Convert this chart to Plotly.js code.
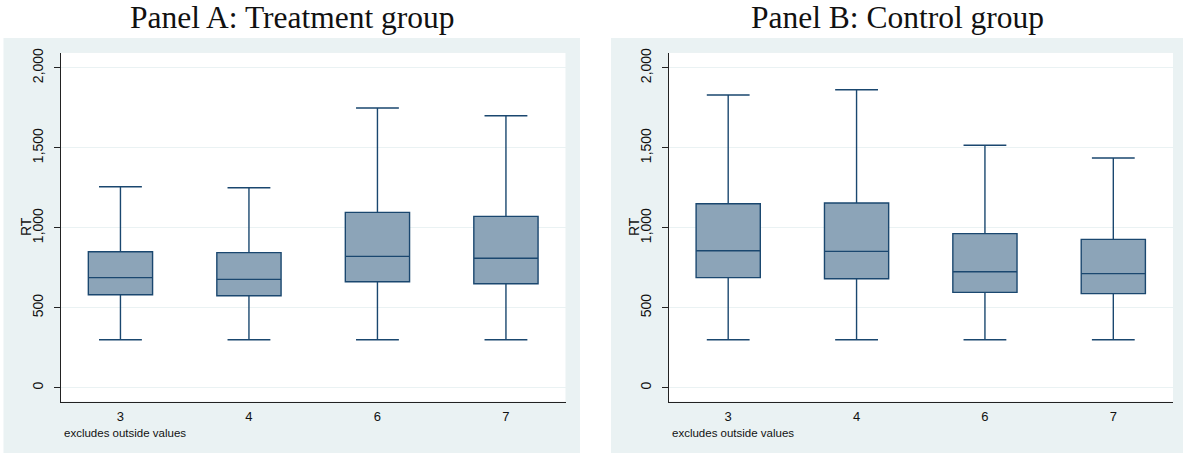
<!DOCTYPE html>
<html><head><meta charset="utf-8">
<script src="https://cdn.plot.ly/plotly-3.0.1.min.js"></script>
<style>html,body{margin:0;padding:0;background:#fff}</style>
</head><body><div id="chart" style="width:1183px;height:454px"></div>
<script>
const categories = ['3', '4', '6', '7'];
const panelTitles = ['Panel A: Treatment group', 'Panel B: Control group'];
const yTitle = 'RT';
const noteText = 'excludes outside values';

const treatLower  = [300, 300, 300, 300];
const treatQ1     = [581, 575, 662, 650];
const treatMedian = [688, 677, 821, 809];
const treatQ3     = [850, 844, 1096, 1071];
const treatUpper  = [1256, 1250, 1748, 1700];

const ctrlLower  = [300, 300, 300, 300];
const ctrlQ1     = [688, 681, 596, 588];
const ctrlMedian = [856, 852, 725, 713];
const ctrlQ3     = [1150, 1154, 963, 927];
const ctrlUpper  = [1829, 1862, 1515, 1436];

const W = 1183, H = 454;
const px = v => v / W;
const py = v => 1 - v / H;

const fillC = '#8ca4b8', lineC = '#1a476f', bgC = '#eaf2f3', axC = '#222222';
const xRange = [-0.465, 3.465], yRange = [-87.5, 2093.75];

function boxTrace(lo, q1, med, q3, up, xa, ya) {
  return {
    type: 'box', x: categories, lowerfence: lo, q1: q1, median: med, q3: q3, upperfence: up,
    boxpoints: false, width: 0.5, whiskerwidth: 0.667,
    fillcolor: fillC, line: {color: lineC, width: 1.4},
    xaxis: xa, yaxis: ya, showlegend: false, hoverinfo: 'skip'
  };
}

const data = [
  boxTrace(treatLower, treatQ1, treatMedian, treatQ3, treatUpper, 'x', 'y'),
  boxTrace(ctrlLower, ctrlQ1, ctrlMedian, ctrlQ3, ctrlUpper, 'x2', 'y2')
];

const yDom = [py(401.7), py(52.7)];
function xax(dom, anchor) {
  return {domain: dom, anchor: anchor, type: 'category', range: xRange,
    showline: true, linecolor: axC, linewidth: 1, ticks: '', showgrid: false, zeroline: false,
    ticklabelstandoff: 3,
    tickfont: {family: 'Liberation Sans, Arial, sans-serif', size: 13, color: '#111'}, fixedrange: true};
}
function yax(anchor) {
  return {domain: yDom, anchor: anchor, range: yRange, tick0: 0, dtick: 500, tickformat: ',',
    showline: true, linecolor: axC, linewidth: 1, ticks: 'outside', ticklen: 6, tickcolor: axC, tickwidth: 1,
    showgrid: true, gridcolor: bgC, gridwidth: 1, zeroline: false, tickangle: -90,
    ticklabelstandoff: 5,
    tickfont: {family: 'Liberation Sans, Arial, sans-serif', size: 14, color: '#111'}, fixedrange: true};
}

const layout = {
  width: W, height: H, margin: {l: 0, r: 0, t: 0, b: 0},
  paper_bgcolor: '#ffffff', plot_bgcolor: '#ffffff', showlegend: false,
  xaxis: xax([px(60.7), px(565.7)], 'y'),
  yaxis: yax('x'),
  xaxis2: xax([px(668.5), px(1173)], 'y2'),
  yaxis2: yax('x2'),
  shapes: [
    {type: 'rect', xref: 'paper', yref: 'paper', x0: px(3.5), x1: px(580), y0: py(453), y1: py(38), fillcolor: bgC, line: {width: 0}, layer: 'below'},
    {type: 'rect', xref: 'paper', yref: 'paper', x0: px(611), x1: px(1183), y0: py(453), y1: py(38), fillcolor: bgC, line: {width: 0}, layer: 'below'},
    {type: 'rect', xref: 'x', yref: 'y', x0: xRange[0], x1: xRange[1], y0: yRange[0], y1: yRange[1], fillcolor: '#ffffff', line: {width: 0}, layer: 'below'},
    {type: 'rect', xref: 'x2', yref: 'y2', x0: xRange[0], x1: xRange[1], y0: yRange[0], y1: yRange[1], fillcolor: '#ffffff', line: {width: 0}, layer: 'below'}
  ],
  annotations: [
    {text: panelTitles[0], xref: 'paper', yref: 'paper', x: px(292), y: py(18), xanchor: 'center', yanchor: 'middle', showarrow: false,
     font: {family: 'Liberation Serif, Times New Roman, serif', size: 31.5, color: '#111'}},
    {text: panelTitles[1], xref: 'paper', yref: 'paper', x: px(897), y: py(18), xanchor: 'center', yanchor: 'middle', showarrow: false,
     font: {family: 'Liberation Serif, Times New Roman, serif', size: 31.5, color: '#111'}},
    {text: yTitle, xref: 'paper', yref: 'paper', x: px(26), y: py(227), textangle: -90, xanchor: 'center', yanchor: 'middle', showarrow: false,
     font: {family: 'Liberation Sans, Arial, sans-serif', size: 14, color: '#111'}},
    {text: yTitle, xref: 'paper', yref: 'paper', x: px(634), y: py(227), textangle: -90, xanchor: 'center', yanchor: 'middle', showarrow: false,
     font: {family: 'Liberation Sans, Arial, sans-serif', size: 14, color: '#111'}},
    {text: noteText, xref: 'paper', yref: 'paper', x: px(62), y: py(433), xanchor: 'left', yanchor: 'middle', showarrow: false,
     font: {family: 'Liberation Sans, Arial, sans-serif', size: 11.5, color: '#111'}},
    {text: noteText, xref: 'paper', yref: 'paper', x: px(670), y: py(433), xanchor: 'left', yanchor: 'middle', showarrow: false,
     font: {family: 'Liberation Sans, Arial, sans-serif', size: 11.5, color: '#111'}}
  ]
};

Plotly.newPlot('chart', data, layout, {staticPlot: true, displayModeBar: false});
</script>
</body></html>
